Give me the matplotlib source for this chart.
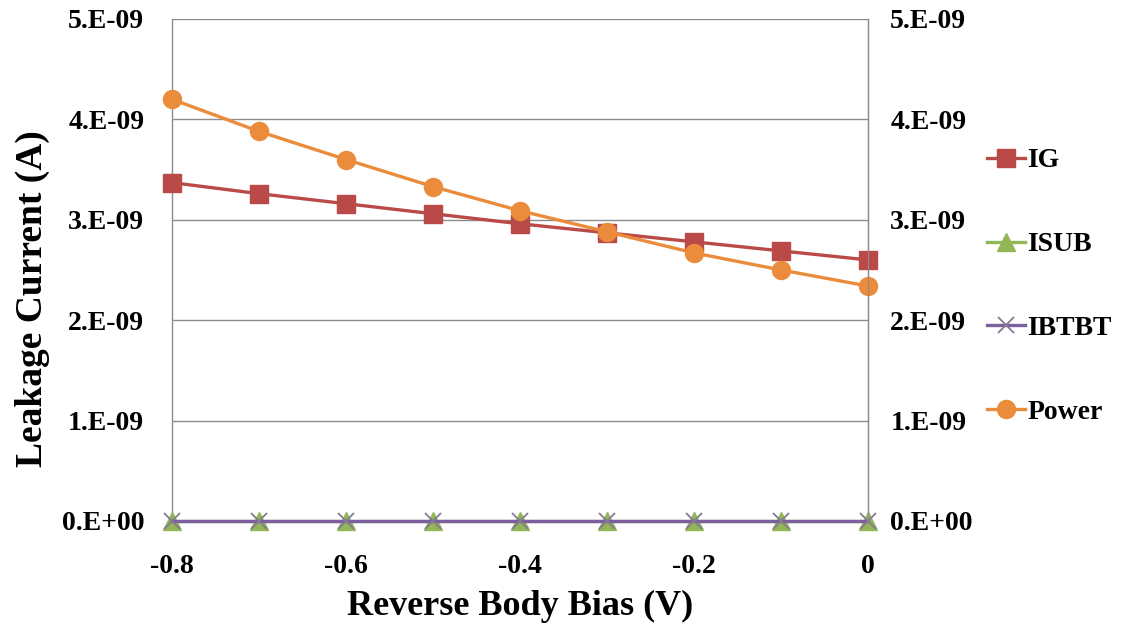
import matplotlib
matplotlib.use("Agg")
import matplotlib.pyplot as plt

# Reverse body bias sweep (V)
bias = [-0.8, -0.7, -0.6, -0.5, -0.4, -0.3, -0.2, -0.1, 0.0]

# Leakage components (A)
ig = [3.37e-9, 3.26e-9, 3.16e-9, 3.06e-9, 2.96e-9, 2.87e-9, 2.78e-9, 2.69e-9, 2.60e-9]
isub = [0.0, 0.0, 0.0, 0.0, 0.0, 0.0, 0.0, 0.0, 0.0]
ibtbt = [0.0, 0.0, 0.0, 0.0, 0.0, 0.0, 0.0, 0.0, 0.0]
power = [4.20e-9, 3.88e-9, 3.60e-9, 3.33e-9, 3.09e-9, 2.88e-9, 2.67e-9, 2.50e-9, 2.34e-9]

y_ticks = [0.0, 1e-9, 2e-9, 3e-9, 4e-9, 5e-9]
y_tick_labels = ["0.E+00", "1.E-09", "2.E-09", "3.E-09", "4.E-09", "5.E-09"]
x_ticks = [-0.8, -0.6, -0.4, -0.2, 0.0]
x_tick_labels = ["-0.8", "-0.6", "-0.4", "-0.2", "0"]

plt.rcParams["font.family"] = ["Liberation Serif", "DejaVu Serif"]
plt.rcParams["font.weight"] = "bold"

fig = plt.figure(figsize=(11.23, 6.24), dpi=100)
ax = fig.add_axes([0.1532, 0.1651, 0.7730 - 0.1532, 0.9696 - 0.1651])

c_ig = "#BA4A47"
c_isub = "#93B656"
c_ibtbt = "#7B5F9E"
c_power = "#EA8C3B"

ax.plot(bias, ig, color=c_ig, lw=2.4, marker="s", ms=12.5, mfc=c_ig, mec=c_ig,
        label="IG", zorder=3, clip_on=False)
ax.plot(bias, isub, color=c_isub, lw=2.4, marker="^", ms=13, mfc=c_isub, mec=c_isub,
        label="ISUB", zorder=4, clip_on=False)
ax.plot(bias, ibtbt, color=c_ibtbt, lw=2.4, marker="x", ms=11, mew=1.3, mec="#857A92",
        label="IBTBT", zorder=5, clip_on=False)
ax.plot(bias, power, color=c_power, lw=2.4, marker="o", ms=13, mfc=c_power, mec=c_power,
        label="Power", zorder=6, clip_on=False)

ax.set_xlim(-0.8, 0.0)
ax.set_ylim(0, 5e-9)
ax.set_yticks(y_ticks)
ax.set_yticklabels(y_tick_labels)
ax.set_xticks(x_ticks)
ax.set_xticklabels(x_tick_labels)

ax.grid(axis="y", color="#8C8C8C", lw=1.0, zorder=1)
ax.spines["top"].set_visible(False)
for side in ["left", "right", "bottom"]:
    ax.spines[side].set_color("#8C8C8C")
    ax.spines[side].set_linewidth(1.0)

ax.tick_params(axis="both", length=0, labelsize=20)
ax.tick_params(axis="y", pad=20)
ax.tick_params(axis="x", pad=24)

# Mirror the y scale on the right side
ax2 = ax.twinx()
ax2.set_ylim(ax.get_ylim())
ax2.set_yticks(y_ticks)
ax2.set_yticklabels(y_tick_labels)
ax2.tick_params(axis="y", length=0, labelsize=20, pad=16)
for side in ["top", "left", "bottom"]:
    ax2.spines[side].set_visible(False)
ax2.spines["right"].set_color("#8C8C8C")

ax.set_xlabel("Reverse Body Bias (V)", fontsize=26, fontweight="bold", labelpad=8)
ax.set_ylabel("Leakage Current (A)", fontsize=27, fontweight="bold")
ax.yaxis.set_label_coords(-0.176, 0.442)

handles, labels = ax.get_legend_handles_labels()
fig.legend(handles, labels, loc="center left", bbox_to_anchor=(0.879, 0.541),
           frameon=False, fontsize=20, handlelength=1.35, handletextpad=0.1,
           labelspacing=2.1, borderpad=0, borderaxespad=0)

fig.savefig("out.png", dpi=100)
